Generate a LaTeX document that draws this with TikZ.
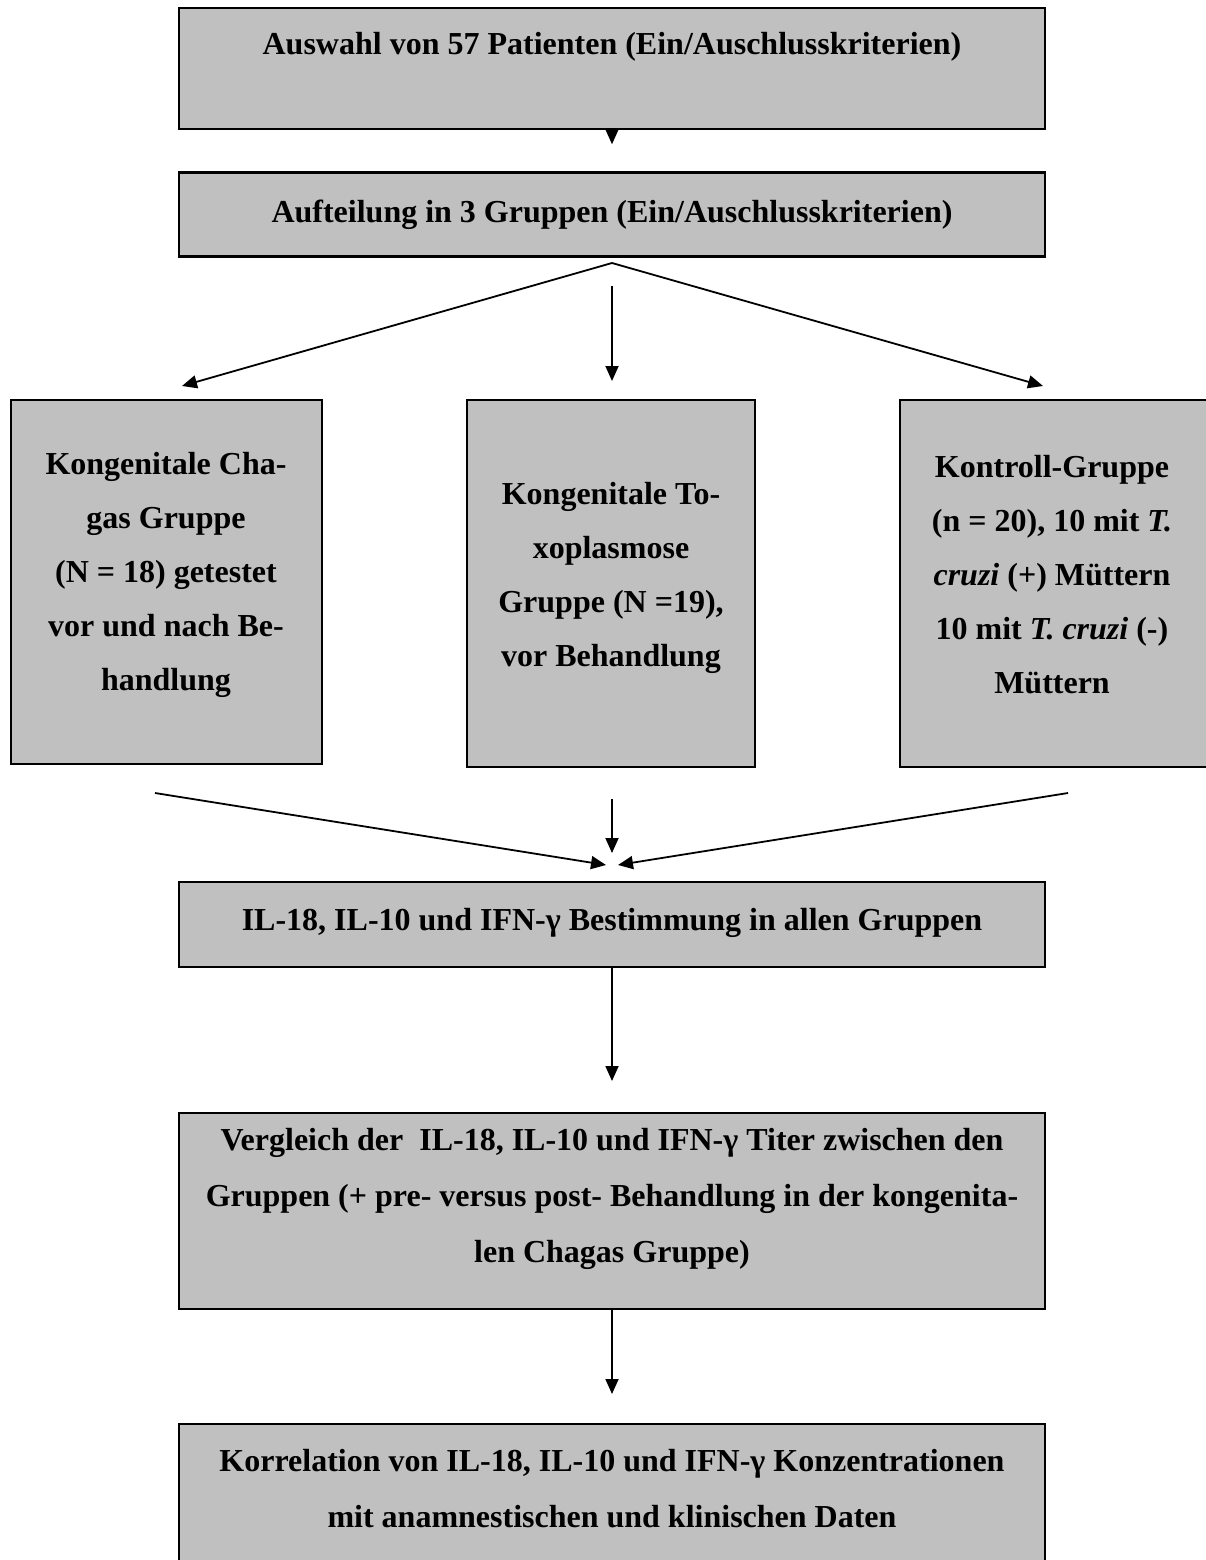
\documentclass[tikz,border=0pt]{standalone}
\usepackage{fontspec}
\setmainfont{Liberation Serif}
\usetikzlibrary{arrows.meta}
\definecolor{boxgray}{HTML}{C0C0C0}
\begin{document}
\begin{tikzpicture}[x=1pt,y=-1pt,
  box/.style={draw, fill=boxgray, line width=2.5pt, inner sep=0pt, anchor=center},
  txt/.style={align=center, inner sep=0pt, font=\bfseries\fontsize{32}{56}\selectfont},
  gtxt/.style={align=center, inner sep=0pt, font=\bfseries\fontsize{32}{54}\selectfont},
  arr/.style={line width=1.8pt, -{Triangle[length=15pt,width=13pt]}}]
\useasboundingbox (0,0) rectangle (1205,1560);

% boxes
\node[box, minimum width=866pt, minimum height=121pt] (b1) at (612,68.5) {};
\node[box, minimum width=866pt, minimum height=84pt] (b2) at (612,214.5) {};
\node[box, minimum width=311pt, minimum height=364pt] (bL) at (166.5,582) {};
\node[box, minimum width=288pt, minimum height=367pt] (bM) at (611,583.5) {};
\node[box, minimum width=320pt, minimum height=367pt] (bR) at (1060,583.5) {};
\node[box, minimum width=866pt, minimum height=85pt] (b4) at (612,924.5) {};
\node[box, minimum width=866pt, minimum height=196pt] (b5) at (612,1211) {};
\node[box, minimum width=866pt, minimum height=190pt] (b6) at (612,1519) {};

% texts
\node[txt] (t1) at (612,47) {Auswahl von 57 Patienten (Ein/Auschlusskriterien)};
\node[txt] (t2) at (612,215) {Aufteilung in 3 Gruppen (Ein/Auschlusskriterien)};
\node[gtxt] (tL) at (166,575) {Kongenitale Cha-\\gas Gruppe\\(N = 18) getestet\\vor und nach Be-\\handlung};
\node[gtxt] (tM) at (611,578) {Kongenitale To-\\xoplasmose\\Gruppe (N =19),\\vor Behandlung};
\node[gtxt] (tR) at (1052,575) {Kontroll-Gruppe\\(n = 20), 10 mit \textit{T.}\\\textit{cruzi} (+) Müttern\\10 mit \textit{T. cruzi} (-)\\Müttern};
\node[txt] (t4) at (612,923) {IL-18, IL-10 und IFN-γ Bestimmung in allen Gruppen};
\node[txt] (t5) at (612,1199) {Vergleich der\ \ IL-18, IL-10 und IFN-γ Titer zwischen den\\Gruppen (+ pre- versus post- Behandlung in der kongenita-\\len Chagas Gruppe)};
\node[txt] (t6) at (612,1488.5) {Korrelation von IL-18, IL-10 und IFN-γ Konzentrationen\\mit anamnestischen und klinischen Daten};

% coordinates for connector ends
\coordinate (apex) at (612,263);
\coordinate (fanL) at (182,386);
\coordinate (fanR) at (1043,386);
\coordinate (fanCs) at (612,286);
\coordinate (fanCe) at (612,381);
\coordinate (cvL) at (155,793);
\coordinate (cvR) at (1068,793);
\coordinate (cvLe) at (606,865);
\coordinate (cvRe) at (618,865);
\coordinate (cvCs) at (612,799);
\coordinate (cvCe) at (612,853);
\coordinate (a45) at (612,1081);
\coordinate (a56) at (612,1394);

% connectors
\draw[arr] (b1.south) -- ++(0,14);
\draw[arr] (apex) -- (fanL);
\draw[arr] (apex) -- (fanR);
\draw[arr] (fanCs) -- (fanCe);
\draw[arr] (cvL) -- (cvLe);
\draw[arr] (cvR) -- (cvRe);
\draw[arr] (cvCs) -- (cvCe);
\draw[arr] (b4.south) -- (a45);
\draw[arr] (b5.south) -- (a56);
\end{tikzpicture}
\end{document}
